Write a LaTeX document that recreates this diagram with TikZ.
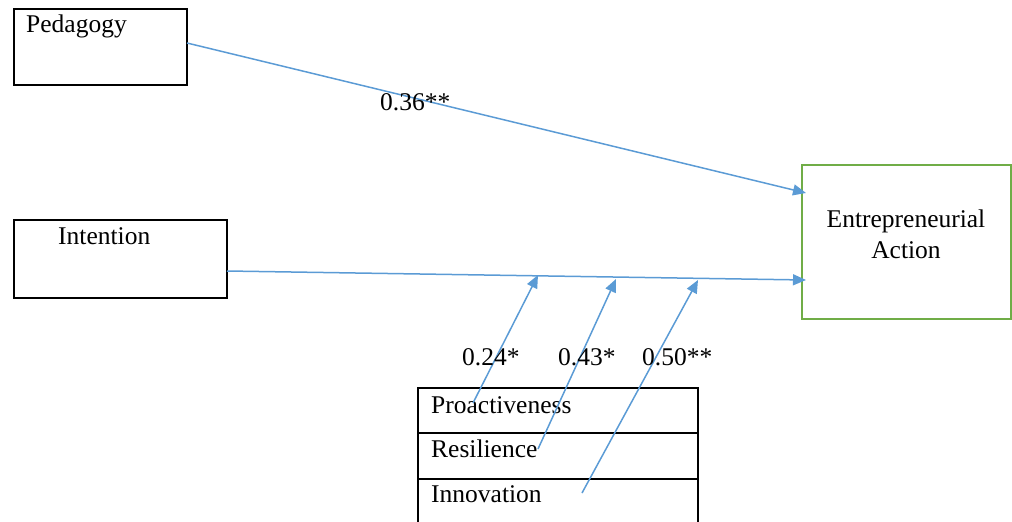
\documentclass[tikz,border=0pt]{standalone}
\usepackage{fontspec}
\setmainfont{Liberation Serif}
\usetikzlibrary{arrows.meta}
\begin{document}
\begin{tikzpicture}[x=1pt,y=-1pt,
  txt/.style={font=\fontsize{25.5}{31}\selectfont, inner sep=0pt},
  box/.style={draw=black, line width=1.5pt},
  conn/.style={line width=1.5pt, -{Triangle[length=13pt,width=11pt]}}]
\definecolor{bl}{RGB}{91,155,213}
\definecolor{gr}{RGB}{112,173,71}
\useasboundingbox (0,0) rectangle (1012,522);
% boxes
\draw[box] (14,9) rectangle (187,85);
\node[txt, anchor=base west] (ped) at (26,32) {Pedagogy};
\coordinate (pedR) at (187,43);
\draw[box] (14,220) rectangle (227,298);
\node[txt, anchor=base west] (int) at (58,244) {Intention};
\coordinate (intR) at (227,271);
\draw[draw=gr, line width=2.2pt] (802,165) rectangle (1011,319);
\node[txt, align=center] (ea) at (906,234) {Entrepreneurial\\Action};
\coordinate (eaA) at (806,193);
\coordinate (eaB) at (806,280);
% table
\draw[box] (418,522) -- (418,388) -- (698,388) -- (698,522);
\draw[box] (418,433) -- (698,433);
\draw[box] (418,479) -- (698,479);
\node[txt, anchor=base west] (pro) at (431,413) {Proactiveness};
\node[txt, anchor=base west] (res) at (431,457) {Resilience};
\node[txt, anchor=base west] (inn) at (431,502) {Innovation};
\coordinate (proS) at (473,403);
\coordinate (resS) at (538,449);
\coordinate (innS) at (582,493);
\coordinate (m1) at (538,275);
\coordinate (m2) at (616,279);
\coordinate (m3) at (698,280);
% connectors
\draw[conn, draw=bl] (pedR) -- (eaA);
\draw[conn, draw=bl] (intR) -- (eaB);
\draw[conn, draw=bl] (proS) -- (m1);
\draw[conn, draw=bl] (resS) -- (m2);
\draw[conn, draw=bl] (innS) -- (m3);
% labels
\node[txt, anchor=base west] (l1) at (380,110) {0.36**};
\node[txt, anchor=base west] (l2) at (462,365) {0.24*};
\node[txt, anchor=base west] (l3) at (558,365) {0.43*};
\node[txt, anchor=base west] (l4) at (642,365) {0.50**};
\end{tikzpicture}
\end{document}
